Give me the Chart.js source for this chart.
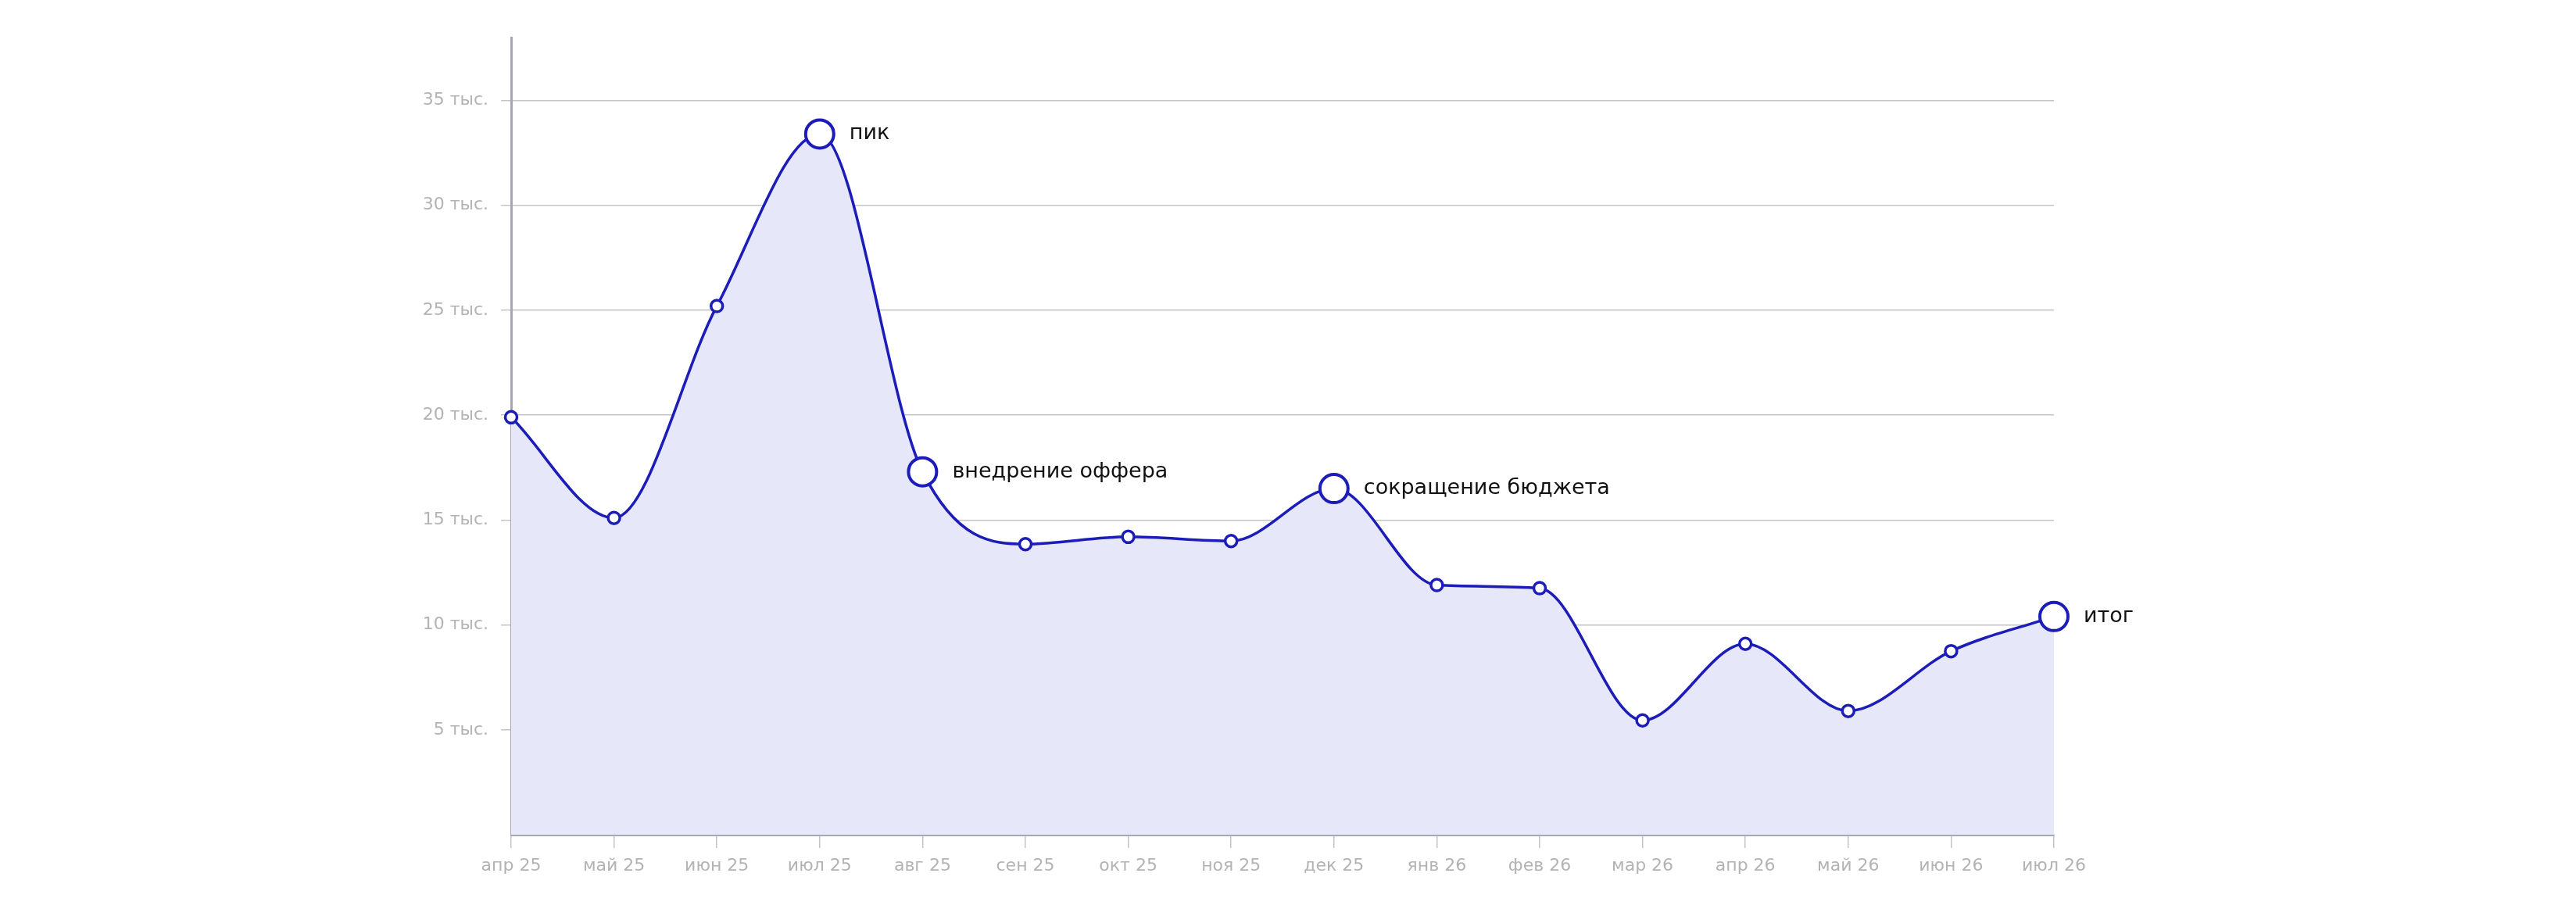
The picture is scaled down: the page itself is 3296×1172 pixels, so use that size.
<!DOCTYPE html>
<html lang="ru">
<head>
<meta charset="utf-8">
<title>Динамика</title>
<script src="https://cdn.jsdelivr.net/npm/chart.js@4.4.1/dist/chart.umd.min.js"></script>
<style>
  html, body { margin: 0; padding: 0; background: #fff; }
  #wrap { width: 3296px; height: 1172px; }
</style>
</head>
<body>
<div id="wrap"><canvas id="lineChart" width="3296" height="1172"></canvas></div>
<script>
const months = ['апр 25', 'май 25', 'июн 25', 'июл 25', 'авг 25', 'сен 25', 'окт 25', 'ноя 25',
  'дек 25', 'янв 26', 'фев 26', 'мар 26', 'апр 26', 'май 26', 'июн 26', 'июл 26'];
const values = [19900, 15100, 25200, 33400, 17300, 13850, 14200, 14000,
  16500, 11900, 11750, 5450, 9100, 5900, 8750, 10400];
const notes = ['', '', '', 'пик', 'внедрение оффера', '', '', '',
  'сокращение бюджета', '', '', '', '', '', '', 'итог'];
const yTicks = [5000, 10000, 15000, 20000, 25000, 30000, 35000];

const lineColor = '#1c1cb9';
const tickFont = { family: 'DejaVu Sans', size: 22 };

// подписи у выделенных точек
const notesPlugin = {
  id: 'notes',
  afterDatasetsDraw(chart) {
    const ctx = chart.ctx;
    const meta = chart.getDatasetMeta(0);
    ctx.save();
    ctx.font = '27px "DejaVu Sans"';
    ctx.fillStyle = '#111111';
    ctx.textBaseline = 'middle';
    ctx.textAlign = 'left';
    notes.forEach((text, i) => {
      if (!text) return;
      const pt = meta.data[i];
      ctx.fillText(text, pt.x + 38, pt.y);
    });
    ctx.restore();
  }
};

new Chart(document.getElementById('lineChart'), {
  type: 'line',
  data: {
    labels: months,
    datasets: [{
      data: values,
      borderColor: lineColor,
      borderWidth: 3.5,
      backgroundColor: '#e6e8f9',
      fill: 'origin',
      cubicInterpolationMode: 'monotone',
      pointBackgroundColor: '#ffffff',
      pointBorderColor: lineColor,
      pointRadius: notes.map(n => n ? 18 : 7.5),
      pointBorderWidth: notes.map(n => n ? 4 : 3.5),
      clip: false
    }]
  },
  options: {
    responsive: false,
    devicePixelRatio: 1,
    animation: false,
    layout: { padding: { top: 48, left: 514, right: 668, bottom: 0 } },
    plugins: {
      legend: { display: false },
      tooltip: { enabled: false }
    },
    scales: {
      x: {
        offset: false,
        grid: {
          drawOnChartArea: false,
          drawTicks: true,
          tickLength: 17,
          color: '#c4c4c8',
          lineWidth: 1.5
        },
        border: { color: '#a6a6b6', width: 3 },
        ticks: {
          color: '#b3b3b3',
          font: tickFont,
          padding: 10,
          maxRotation: 0,
          autoSkip: false
        },
        afterFit(scale) { scale.height = 104; }
      },
      y: {
        min: 0,
        max: 38000,
        afterBuildTicks(scale) {
          scale.ticks = yTicks.map(v => ({ value: v }));
        },
        grid: {
          color: '#c4c4c8',
          lineWidth: 1.5,
          drawTicks: true,
          tickLength: 13
        },
        border: { color: '#a6a6b6', width: 3 },
        ticks: {
          color: '#b3b3b3',
          font: tickFont,
          padding: 16,
          callback: v => (v / 1000) + ' тыс.'
        },
        afterFit(scale) { scale.width = 140; }
      }
    }
  },
  plugins: [notesPlugin]
});
</script>
</body>
</html>
